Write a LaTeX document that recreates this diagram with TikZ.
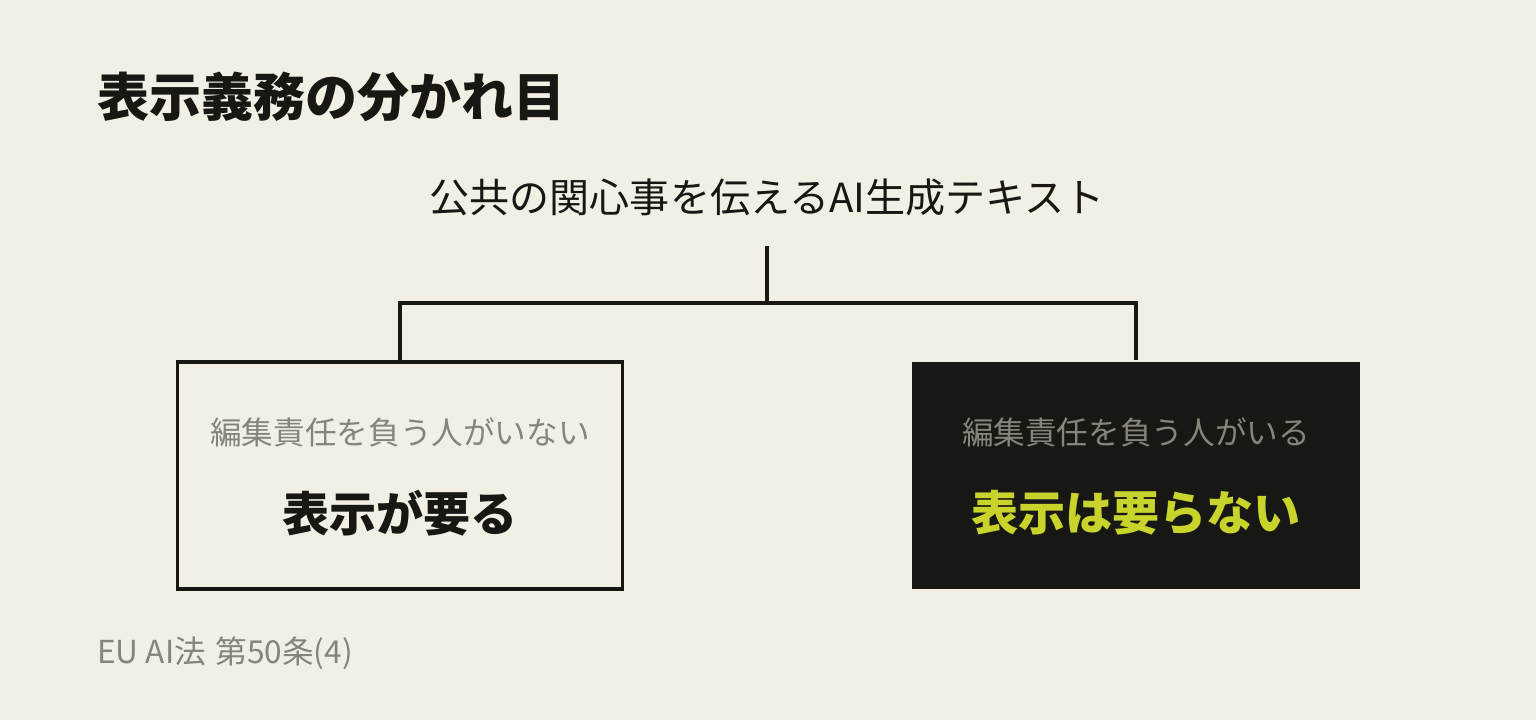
\documentclass[tikz,border=0pt]{standalone}
\usepackage{fontspec}
\setmainfont{Noto Sans CJK JP}
\usepackage{xcolor}
\definecolor{paper_bg}{HTML}{F2EFE5}
\definecolor{ink_dark}{HTML}{171713}
\definecolor{muted_grey}{HTML}{86847B}
\definecolor{lime_mark}{HTML}{C8D42C}
\usetikzlibrary{positioning}

\begin{document}
\begin{tikzpicture}[x=0.02cm, y=-0.02cm,
    wire/.style={draw=ink_dark, line width=2pt},
    panel/.style={minimum width=8.9cm, minimum height=4.54cm, line width=2pt, inner sep=0pt},
    condtext/.style={text=muted_grey, font=\fontsize{18}{20}\selectfont, inner sep=0pt},
    resulttext/.style={font=\bfseries\fontsize{26.8}{30}\selectfont, inner sep=0pt}]
  \fill[paper_bg] (0,0) rectangle (1536,720);
  \useasboundingbox (0,0) rectangle (1536,720);

  \node[anchor=west, inner sep=0pt, text=ink_dark, font=\bfseries\fontsize{29.6}{32}\selectfont]
    (title) at (97,97) {表示義務の分かれ目};
  \node[inner sep=0pt, text=ink_dark, font=\fontsize{22.8}{26}\selectfont]
    (source) at (767,197) {公共の関心事を伝えるAI生成テキスト};

  \node[panel, draw=ink_dark, fill=paper_bg] (nobox) at (400,475.5) {};
  \node[panel, fill=ink_dark, minimum width=8.96cm, minimum height=4.56cm] (yesbox) at (1136,475.5) {};

  \node[condtext] (nocond) at (400,432) {編集責任を負う人がいない};
  \node[resulttext, text=ink_dark] (nores) at (400,513) {表示が要る};
  \node[condtext] (yescond) at (1136,432) {編集責任を負う人がいる};
  \node[resulttext, text=lime_mark] (yesres) at (1136,513) {表示は要らない};

  \coordinate (stem) at (767,246);
  \coordinate (joint) at (767,303);
  \draw[wire] (stem) -- (joint);
  \draw[wire] (nobox.north) |- (joint) -| (yesbox.north);

  \node[anchor=west, inner sep=0pt, text=muted_grey, font=\fontsize{18}{20}\selectfont]
    (footnote) at (97,653) {EU AI法\hspace{0.3em}第50条(4)};
\end{tikzpicture}
\end{document}
